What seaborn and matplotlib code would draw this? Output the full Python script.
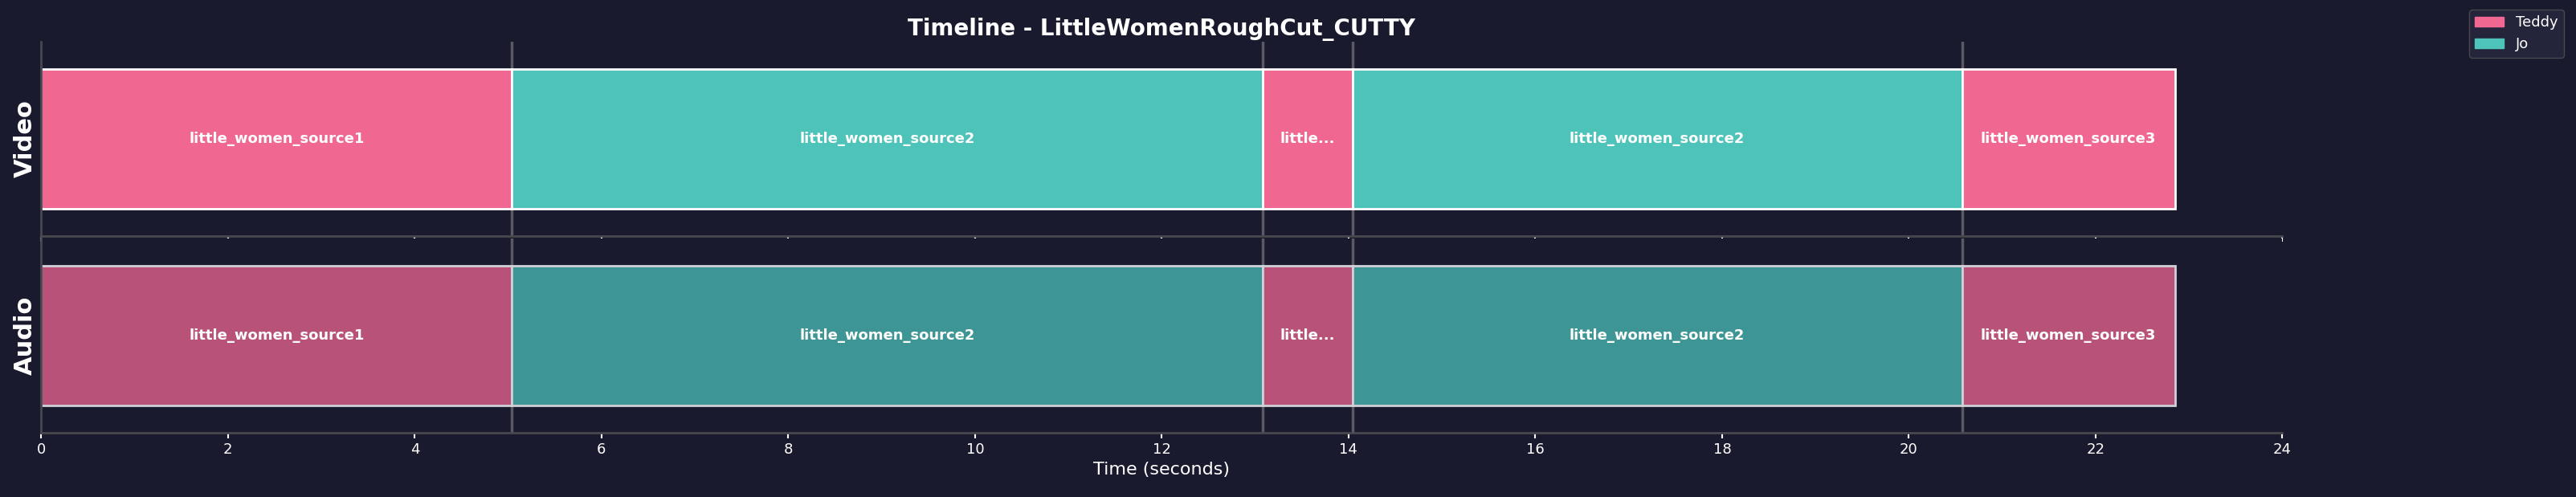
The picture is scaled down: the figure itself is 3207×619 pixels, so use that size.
import matplotlib
matplotlib.use("Agg")
import matplotlib.pyplot as plt
import seaborn as sns
from matplotlib.patches import Patch

# clip boundaries in seconds and who is on screen
starts = [0.0, 5.04, 13.08, 14.04, 20.57]
ends = [5.04, 13.08, 14.04, 20.57, 22.85]
sources = ["little_women_source1", "little_women_source2", "little_women_source1",
           "little_women_source2", "little_women_source3"]
speakers = ["Teddy", "Jo", "Teddy", "Jo", "Teddy"]
tracks = ["Video", "Audio"]

bg = "#1a1a2e"
video_col = {"Teddy": "#f06792", "Jo": "#4ec3b9"}
audio_col = {"Teddy": "#b85279", "Jo": "#3e9595"}

sns.set_theme(style="dark", rc={"axes.facecolor": bg, "figure.facecolor": bg})
plt.rcParams["font.family"] = ["DejaVu Sans"]

fig, axes = plt.subplots(2, 1, figsize=(32.07, 6.19), dpi=100, sharex=True)
fig.subplots_adjust(left=0.016, right=0.886, top=0.916, bottom=0.129, hspace=0.015)

for ax, track in zip(axes, tracks):
    cols = video_col if track == "Video" else audio_col
    edge = "white" if track == "Video" else "#d0d0d8"
    for s, e, src, who in zip(starts, ends, sources, speakers):
        ax.barh(0, e - s, left=s, height=0.72, color=[cols[who]],
                edgecolor=edge, linewidth=2)
        label = src if (e - s) > 2 else src[:6] + "..."
        ax.text((s + e) / 2, 0, label, ha="center", va="center",
                color="white", fontsize=13, fontweight="bold")
    for b in ends[:-1]:
        ax.axvline(b, color="#5a5a64", linewidth=2.5, zorder=0)
    ax.set_ylim(-0.5, 0.5)
    ax.set_yticks([])
    ax.set_ylabel(track, color="white", fontsize=22, fontweight="bold")
    ax.set_facecolor(bg)
    for sp in ["top", "right"]:
        ax.spines[sp].set_visible(False)
    for sp in ["left", "bottom"]:
        ax.spines[sp].set_visible(True)
        ax.spines[sp].set_color("#48484f")
        ax.spines[sp].set_linewidth(2)
    ax.tick_params(axis="x", colors="white", labelsize=13, length=5, width=1.5,
                   bottom=True)

axes[1].set_xlim(0, 24)
axes[1].set_xticks(range(0, 25, 2))
axes[1].set_xlabel("Time (seconds)", color="white", fontsize=16)
axes[0].set_title("Timeline - LittleWomenRoughCut_CUTTY", color="white",
                  fontsize=20, fontweight="bold", pad=6)

handles = [Patch(facecolor=video_col[k], edgecolor=video_col[k], label=k)
           for k in ["Teddy", "Jo"]]
leg = fig.legend(handles=handles, loc="upper right", bbox_to_anchor=(0.998, 0.995),
                 fontsize=13, facecolor="#24243a", edgecolor="#48484f",
                 labelcolor="white", framealpha=1)

fig.savefig("out.png", facecolor=bg)
